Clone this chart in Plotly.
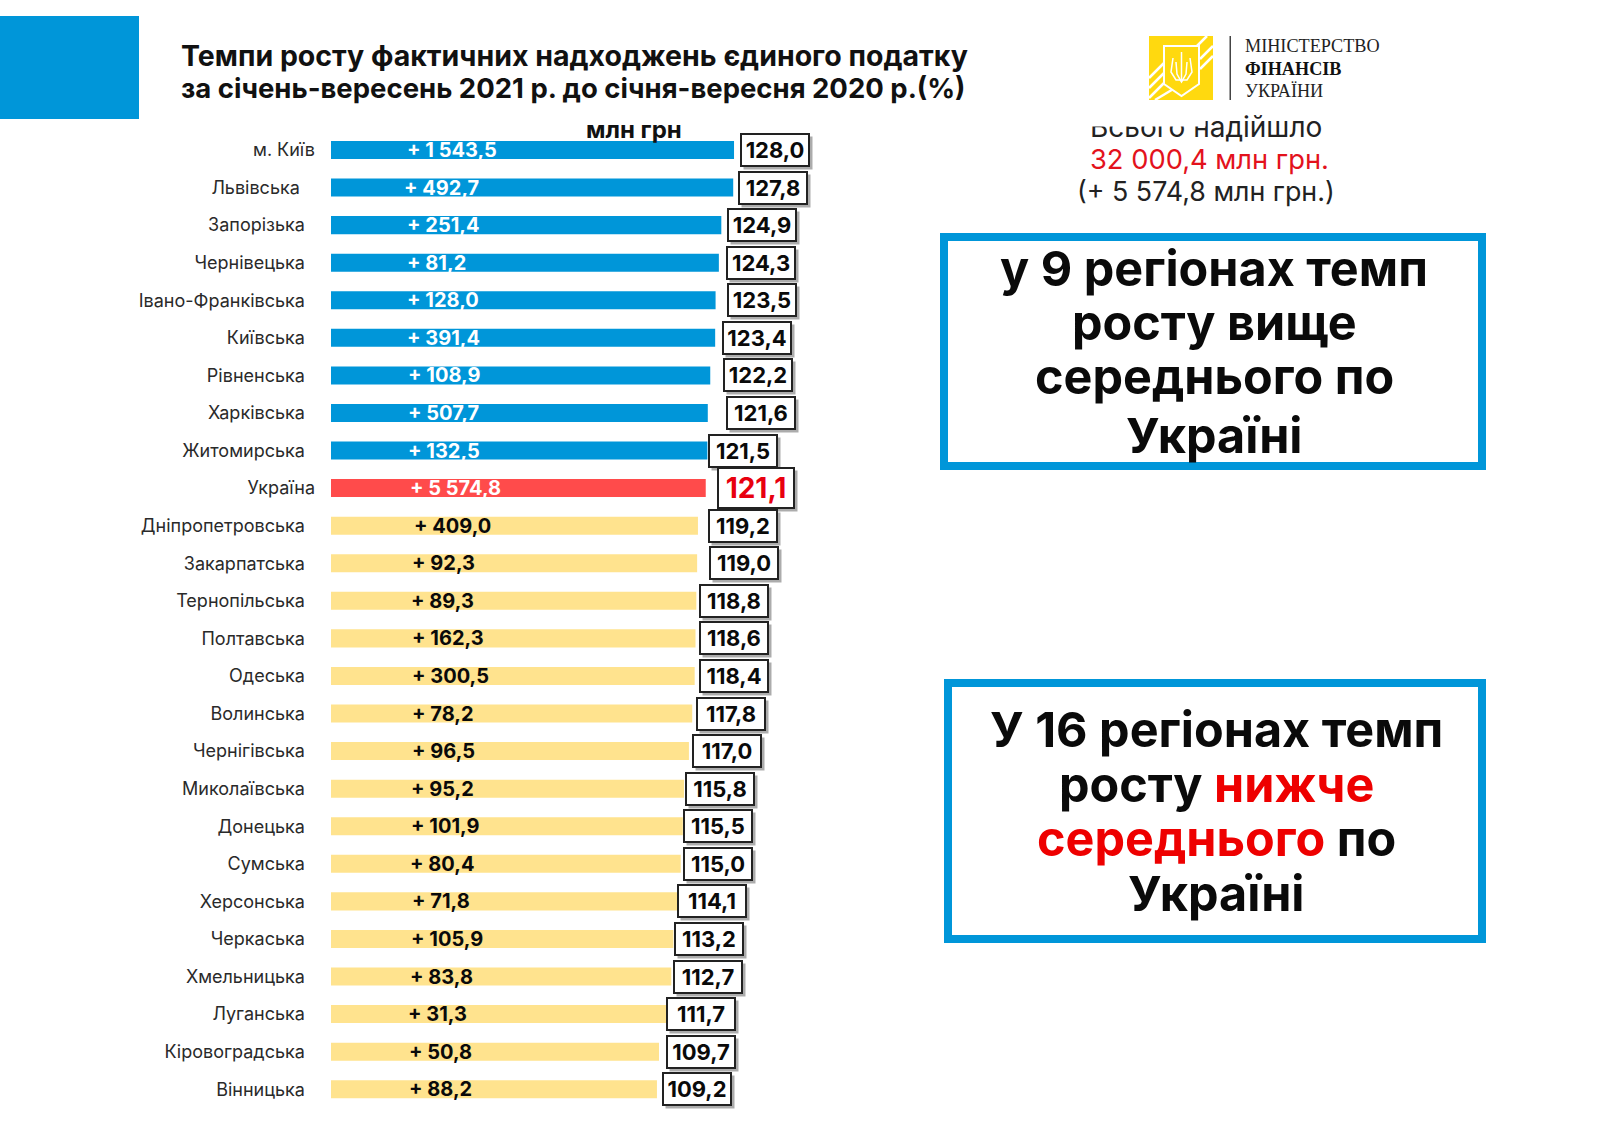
import plotly.graph_objects as go

regions = ["м. Київ", "Львівська", "Запорізька", "Чернівецька", "Івано-Франківська", "Київська",
           "Рівненська", "Харківська", "Житомирська", "Україна", "Дніпропетровська", "Закарпатська",
           "Тернопільська", "Полтавська", "Одеська", "Волинська", "Чернігівська", "Миколаївська",
           "Донецька", "Сумська", "Херсонська", "Черкаська", "Хмельницька", "Луганська",
           "Кіровоградська", "Вінницька"]
growth = [128.0, 127.8, 124.9, 124.3, 123.5, 123.4, 122.2, 121.6, 121.5, 121.1, 119.2, 119.0, 118.8,
          118.6, 118.4, 117.8, 117.0, 115.8, 115.5, 115.0, 114.1, 113.2, 112.7, 111.7, 109.7, 109.2]
increase = [1543.5, 492.7, 251.4, 81.2, 128.0, 391.4, 108.9, 507.7, 132.5, 5574.8, 409.0, 92.3, 89.3,
            162.3, 300.5, 78.2, 96.5, 95.2, 101.9, 80.4, 71.8, 105.9, 83.8, 31.3, 50.8, 88.2]

# layout tweaks, the original slide has hand placed boxes
box_shift = [41, 40, 41, 42, 46, 42, 48, 53, 36, 50, 45, 47, 38, 39, 39, 39, 38, 36, 35, 37, 35, 36, 37, 34, 42, 40]
inbar_shift = [74, 71, 74, 74, 74, 74, 75, 75, 75, 77, 81, 79, 78, 79, 79, 79, 79, 78, 78, 77, 79, 78, 77, 75, 76, 76]

BLUE = "#0096d9"
YELLOW = "#ffe38e"
RED = "#ff4b4b"
FONT = "Inter"

W, H = 1600, 1130
AXIS_START = 29.7
PX_PER_UNIT = 4.1


def fx(px):
    return px / W


def fy(py):
    return 1 - py / H


def fmt_growth(v):
    return f"{v:.1f}".replace(".", ",")


def fmt_increase(v):
    return "+ " + f"{v:,.1f}".replace(",", " ").replace(".", ",")


def pad_name(name):
    # names are not quite right aligned in the original
    if name in ("м. Київ", "Україна"):
        return name
    if name == "Львівська":
        return name + "\u00a0\u00a0\u00a0"
    return name + "\u00a0\u00a0"


colors = [BLUE if g > 121.1 else RED if g == 121.1 else YELLOW for g in growth]

# bars are drawn from the axis start, so lengths are growth minus start
fig = go.Figure(go.Bar(
    x=[g - AXIS_START for g in growth],
    y=regions,
    orientation="h",
    base=AXIS_START,
    marker=dict(color=colors, line=dict(width=0)),
    width=0.48,
    hoverinfo="skip",
))


def text(x, y, s, size, color="#111111", bold=False, family=FONT, anchor="center"):
    fig.add_annotation(
        x=fx(x), y=fy(y), xref="paper", yref="paper", text=s, showarrow=False,
        xanchor=anchor, yanchor="middle", align=anchor,
        font=dict(size=size, color=color, family=family, weight=700 if bold else 400),
    )


for name, g, inc, bs, ibs in zip(regions, growth, increase, box_shift, inbar_shift):
    big = name == "Україна"
    # shadow first, then the box
    fig.add_annotation(
        x=g, y=name, text=fmt_growth(g), showarrow=False, xshift=bs + 3, yshift=-3,
        width=74 if big else 66, height=38 if big else 30, bgcolor="rgba(70,70,70,0.45)",
        font=dict(size=28 if big else 22, color="rgba(0,0,0,0)", family=FONT, weight=700),
    )
    fig.add_annotation(
        x=g, y=name, text=fmt_growth(g), showarrow=False, xshift=bs,
        width=74 if big else 66, height=38 if big else 30, bgcolor="white",
        bordercolor="#222222", borderwidth=2, borderpad=0,
        font=dict(size=28 if big else 22, color="#e8000f" if big else "#0a0a0a", family=FONT, weight=700),
    )
    fig.add_annotation(
        x=AXIS_START, y=name, text=fmt_increase(inc), showarrow=False, xanchor="left", xshift=ibs,
        font=dict(size=20, color="white" if g >= 121.1 else "#0a0a0a", family=FONT, weight=700),
    )

text(179, 56, "Темпи росту фактичних надходжень єдиного податку", 28.5, bold=True, anchor="left")
text(179, 88, "за січень-вересень 2021 р. до січня-вересня 2020 р.(%)", 27.5, bold=True, anchor="left")
text(634, 130, "млн грн", 24, bold=True)

# right column, top of the first line is cut off by the logo picture in the original
text(1206, 127, "Всього надійшло", 28, color="#222222")
fig.add_annotation(x=fx(1206), y=fy(108), xref="paper", yref="paper", text=" ", showarrow=False,
                   width=260, height=15, bgcolor="white")
text(1209, 159, "32 000,4 млн грн.", 27.3, color="#e3121c")
text(1206, 191, "(+ 5 574,8 млн грн.)", 26.8, color="#222222")

for i, line in enumerate(["у 9 регіонах темп", "росту вище", "середнього по", "Україні"]):
    text(1214, [269, 323, 377, 435][i], line, 48.5, color="#0a0a0a", bold=True)
for i, line in enumerate(["У 16 регіонах темп",
                          "росту <span style='color:#ee0000'>нижче</span>",
                          "<span style='color:#ee0000'>середнього</span> по",
                          "Україні"]):
    text(1216, [729, 784, 838, 893][i], line, 48.5, color="#0a0a0a", bold=True)

text(1243, 46, "МІНІСТЕРСТВО", 18.2, color="#222222", family="Liberation Serif", anchor="left")
text(1243, 69, "ФІНАНСІВ", 18.2, color="#111111", bold=True, family="Liberation Serif", anchor="left")
text(1243, 91, "УКРАЇНИ", 18.2, color="#222222", family="Liberation Serif", anchor="left")


def rect(x0, y0, x1, y1, fill=None, line=None, lw=0):
    fig.add_shape(type="rect", xref="paper", yref="paper", x0=fx(x0), x1=fx(x1), y0=fy(y0), y1=fy(y1),
                  fillcolor=fill, line=dict(color=line, width=lw), layer="below")


def stroke(points, color="white", lw=2, fill=None, close=False):
    d = "M " + " L ".join(f"{fx(x)} {fy(y)}" for x, y in points) + (" Z" if close else "")
    fig.add_shape(type="path", xref="paper", yref="paper", path=d, fillcolor=fill,
                  line=dict(color=color, width=lw), layer="below")


rect(0, 16, 139, 119, fill=BLUE)
rect(944, 237, 1482, 466, line=BLUE, lw=8)
rect(948, 683, 1482, 939, line=BLUE, lw=8)

# logo
rect(1149, 36, 1213, 100, fill="#ffd90f")
for a, b in [((1200, 69), (1213, 56)), ((1200, 59), (1213, 46)), ((1197, 46), (1207, 36)),
             ((1149, 78), (1164, 63)), ((1149, 88), (1164, 73)), ((1149, 98), (1164, 83)),
             ((1155, 100), (1175, 88))]:
    stroke([a, b], lw=2.5)
stroke([(1164, 46), (1199, 46), (1199, 84), (1181.5, 96), (1164, 84)], lw=2, fill="#ffd90f", close=True)
stroke([(1181.5, 52), (1181.5, 82)], lw=1.5)
stroke([(1173, 58), (1171, 72), (1176, 80), (1187, 80), (1192, 72), (1190, 58)], lw=1.5)
stroke([(1176, 62), (1177, 74), (1181.5, 82), (1186, 74), (1187, 62)], lw=1.5)
rect(1229.5, 36, 1231, 100, fill="#444444")

fig.update_layout(
    width=W, height=H,
    margin=dict(l=0, r=0, t=0, b=0),
    paper_bgcolor="white", plot_bgcolor="white",
    showlegend=False,
    xaxis=dict(domain=[fx(331), fx(900)], range=[AXIS_START, AXIS_START + 569 / PX_PER_UNIT], visible=False),
    yaxis=dict(
        domain=[fy(1108), fy(131.2)], autorange=False, range=[25.5, -0.5],
        tickmode="array", tickvals=regions, ticktext=[pad_name(r) for r in regions],
        showline=False, showgrid=False, zeroline=False, ticks="", ticklabelstandoff=15,
        tickfont=dict(size=18, color="#2a2a2a", family=FONT),
    ),
)

# page body margin would push the slide off its left edge
fig.write_html("out.html", config={"displayModeBar": False}, post_script="document.body.style.margin='0';")
